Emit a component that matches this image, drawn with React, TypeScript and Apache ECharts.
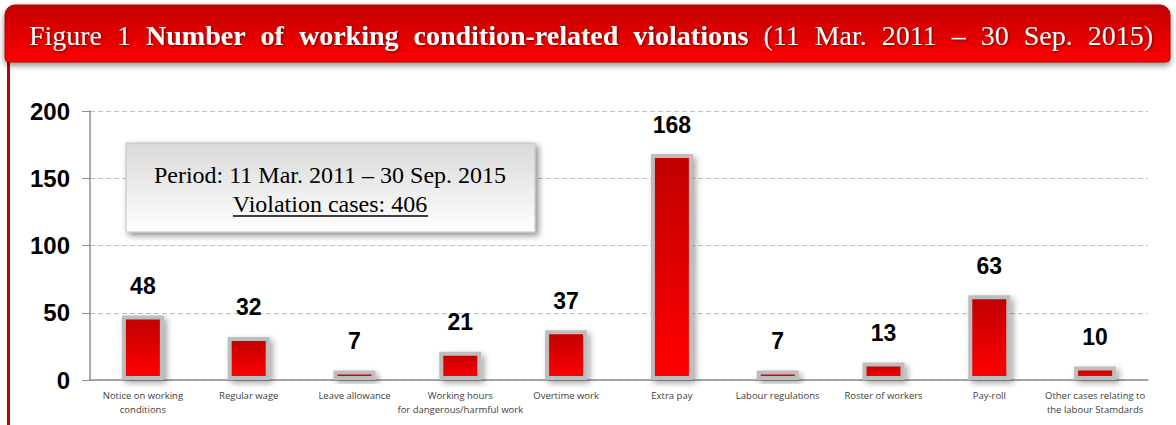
import React, { useEffect, useRef } from "react";
import * as echarts from "echarts";

const categories = [
  "Notice on working\nconditions",
  "Regular wage",
  "Leave allowance",
  "Working hours\nfor dangerous/harmful work",
  "Overtime work",
  "Extra pay",
  "Labour regulations",
  "Roster of workers",
  "Pay-roll",
  "Other cases relating to\nthe labour Stamdards",
];
const violations = [48, 32, 7, 21, 37, 168, 7, 13, 63, 10];
const yTicks = { min: 0, max: 200, interval: 50 };
const titleNormalStart = ["Figure", "1"];
const titleBold = ["Number", "of", "working", "condition-related", "violations"];
const titleNormalEnd = ["(11", "Mar.", "2011", "\u2013", "30", "Sep.", "2015)"];
const periodText = "Period: 11 Mar. 2011 \u2013 30 Sep. 2015";
const totalText = "Violation cases: 406";

export default function App() {
  const ref = useRef<HTMLDivElement>(null);
  useEffect(() => {
    if (!ref.current) return;
    const chart = echarts.init(ref.current, undefined, { renderer: "svg" });
    const barGrad = new echarts.graphic.LinearGradient(0, 0, 0, 1, [
      { offset: 0, color: "#c00000" },
      { offset: 1, color: "#ff0000" },
    ]);
    const words: string[] = [];
    titleNormalStart.forEach((w) => words.push(`{n|${w}}`));
    titleBold.forEach((w) => words.push(`{b|${w}}`));
    titleNormalEnd.forEach((w) => words.push(`{n|${w}}`));
    const titleRich = words.join("{s| }");
    const serif = "Liberation Serif, Times New Roman, serif";
    chart.setOption({
      animation: false,
      backgroundColor: "#ffffff",
      grid: { left: 90, right: 28, top: 111, bottom: 45 },
      xAxis: {
        type: "category",
        data: categories,
        axisLine: { lineStyle: { color: "#8c8c8c", width: 1.5 } },
        axisTick: { length: 5, lineStyle: { color: "#8c8c8c" } },
        axisLabel: {
          fontFamily: "Open Sans, Noto Sans, sans-serif",
          fontSize: 9.5,
          color: "#404040",
          lineHeight: 14,
          margin: 8,
          interval: 0,
        },
      },
      yAxis: {
        type: "value",
        min: yTicks.min,
        max: yTicks.max,
        interval: yTicks.interval,
        axisLine: { show: true, lineStyle: { color: "#8c8c8c", width: 1.5 } },
        axisTick: { show: true, length: 8, lineStyle: { color: "#8c8c8c" } },
        axisLabel: {
          fontFamily: "Liberation Sans, Arial, sans-serif",
          fontSize: 24,
          fontWeight: "bold",
          color: "#000",
          margin: 20,
        },
        splitLine: { lineStyle: { color: "#bfbfbf", type: [5, 3], width: 1 } },
      },
      series: [
        {
          type: "bar",
          data: violations,
          barWidth: 42,
          itemStyle: {
            color: barGrad,
            borderColor: "#bdbdbd",
            borderWidth: 4,
            shadowBlur: 6,
            shadowColor: "rgba(0,0,0,0.35)",
            shadowOffsetX: 3,
            shadowOffsetY: 3,
          },
          label: {
            show: true,
            position: "top",
            distance: 18,
            fontFamily: "Liberation Sans, Arial, sans-serif",
            fontSize: 23,
            fontWeight: "bold",
            color: "#000",
          },
        },
      ],
      graphic: [
        {
          type: "rect",
          shape: { x: 7, y: 60, width: 3, height: 370 },
          style: { fill: "#c00000" },
          z: 1,
        },
        {
          type: "rect",
          shape: { x: 5, y: 5, width: 1165, height: 57, r: [10, 10, 4, 4] },
          style: {
            fill: new echarts.graphic.LinearGradient(0, 0, 0, 1, [
              { offset: 0, color: "#c00000" },
              { offset: 1, color: "#ff0000" },
            ]),
            stroke: "#b00000",
            lineWidth: 1,
            shadowBlur: 6,
            shadowColor: "rgba(0,0,0,0.45)",
            shadowOffsetY: 3,
          },
          z: 5,
        },
        {
          type: "text",
          x: 591,
          y: 35,
          z: 6,
          style: {
            text: titleRich,
            align: "center",
            verticalAlign: "middle",
            fill: "#fff",
            textShadowColor: "rgba(0,0,0,0.5)",
            textShadowBlur: 2,
            textShadowOffsetX: 1,
            textShadowOffsetY: 1,
            rich: {
              n: { fontFamily: serif, fontSize: 28, color: "#fff" },
              b: { fontFamily: serif, fontSize: 28, fontWeight: "bold", color: "#fff" },
              s: { fontFamily: serif, fontSize: 28, width: 15 },
            },
          },
        },
        {
          type: "rect",
          shape: { x: 126, y: 143, width: 409, height: 89 },
          style: {
            fill: new echarts.graphic.LinearGradient(0, 0, 0, 1, [
              { offset: 0, color: "#d9d9d9" },
              { offset: 1, color: "#ffffff" },
            ]),
            stroke: "#bfbfbf",
            lineWidth: 1,
            shadowBlur: 6,
            shadowColor: "rgba(0,0,0,0.45)",
            shadowOffsetX: 3,
            shadowOffsetY: 3,
          },
          z: 10,
        },
        {
          type: "text",
          x: 330,
          y: 175,
          z: 11,
          style: {
            text: periodText,
            align: "center",
            verticalAlign: "middle",
            fontFamily: serif,
            fontSize: 24,
            fill: "#000",
          },
        },
        {
          type: "text",
          x: 330,
          y: 204,
          z: 11,
          style: {
            text: totalText,
            align: "center",
            verticalAlign: "middle",
            fontFamily: serif,
            fontSize: 24,
            fill: "#000",
          },
        },
        {
          type: "line",
          z: 11,
          shape: { x1: 233, y1: 216, x2: 428, y2: 216 },
          style: { stroke: "#000", lineWidth: 1.3 },
        },
      ],
    });
    return () => chart.dispose();
  }, []);
  return <div ref={ref} style={{ width: 1176, height: 425, position: "absolute", left: 0, top: 0 }} />;
}
